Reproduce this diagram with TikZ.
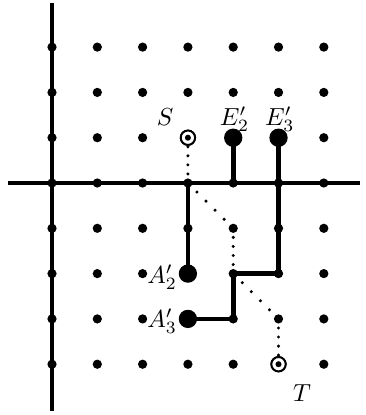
\documentclass[tikz,border=0pt]{standalone}
\begin{document}
\begin{tikzpicture}[
  axisline/.style={line width=2.1pt},
  thickpath/.style={line width=3pt},
  dotvert/.style={line width=2.1pt, line cap=round, dash pattern=on 0pt off 0.2cm},
  dotdiag/.style={line width=2.1pt, line cap=round, dash pattern=on 0pt off 0.28284cm},
  gdot/.style={circle, fill, inner sep=0pt, minimum size=5.8pt},
  bigdot/.style={circle, fill, inner sep=0pt, minimum size=11.5pt},
  bull/.style={circle, draw, line width=1.2pt, fill=white, inner sep=0pt, minimum size=9pt},
  lab/.style={scale=1.55, transform shape, inner sep=0pt, anchor=base}
]
\useasboundingbox (-1.148,-5.121) rectangle (6.91,4.04);
% axes
\coordinate (ytop) at (0,3.97);
\coordinate (ybot) at (0,-5.03);
\coordinate (xl) at (-0.97,0);
\coordinate (xr) at (6.8,0);
\draw[axisline] (ytop) -- (ybot);
\draw[axisline] (xl) -- (xr);
% grid dots
\foreach \x in {0,...,6}
  \foreach \y in {-4,...,3}
    \node[gdot] (g\x\y) at (\x,\y) {};
% dotted route S -> T
\node[bull] (S) at (3,1) {};
\node[bull] (T) at (5,-4) {};
\draw[dotvert] (S.center) -- (g30.center);
\draw[dotdiag] (g30.center) -- (g4-1.center);
\draw[dotvert] (g4-1.center) -- (g4-2.center);
\draw[dotdiag] (g4-2.center) -- (g5-3.center);
\draw[dotvert] (g5-3.center) -- (T.center);
\node[bull] at (S) {};
\node[bull] at (T) {};
\node[circle, fill, inner sep=0pt, minimum size=3.8pt] at (S) {};
\node[circle, fill, inner sep=0pt, minimum size=3.8pt] at (T) {};
% thick paths
\node[bigdot] (E2) at (4,1) {};
\node[bigdot] (E3) at (5,1) {};
\node[bigdot] (A2) at (3,-2) {};
\node[bigdot] (A3) at (3,-3) {};
\draw[thickpath] (A2.center) -- (g30.center) -- (g40.center) -- (E2.center);
\draw[thickpath] (A3.center) -- (g4-3.center) -- (g4-2.center) -- (g5-2.center) -- (g50.center) -- (E3.center);
% labels
\node[lab] (lS) at (2.5,1.26) {$S$};
\node[lab] (lE2) at (4.03,1.28) {$E_2'$};
\node[lab] (lE3) at (5.03,1.28) {$E_3'$};
\node[lab] (lA2) at (2.43,-2.21) {$A_2'$};
\node[lab] (lA3) at (2.43,-3.18) {$A_3'$};
\node[lab] (lT) at (5.52,-4.83) {$T$};
\end{tikzpicture}
\end{document}
